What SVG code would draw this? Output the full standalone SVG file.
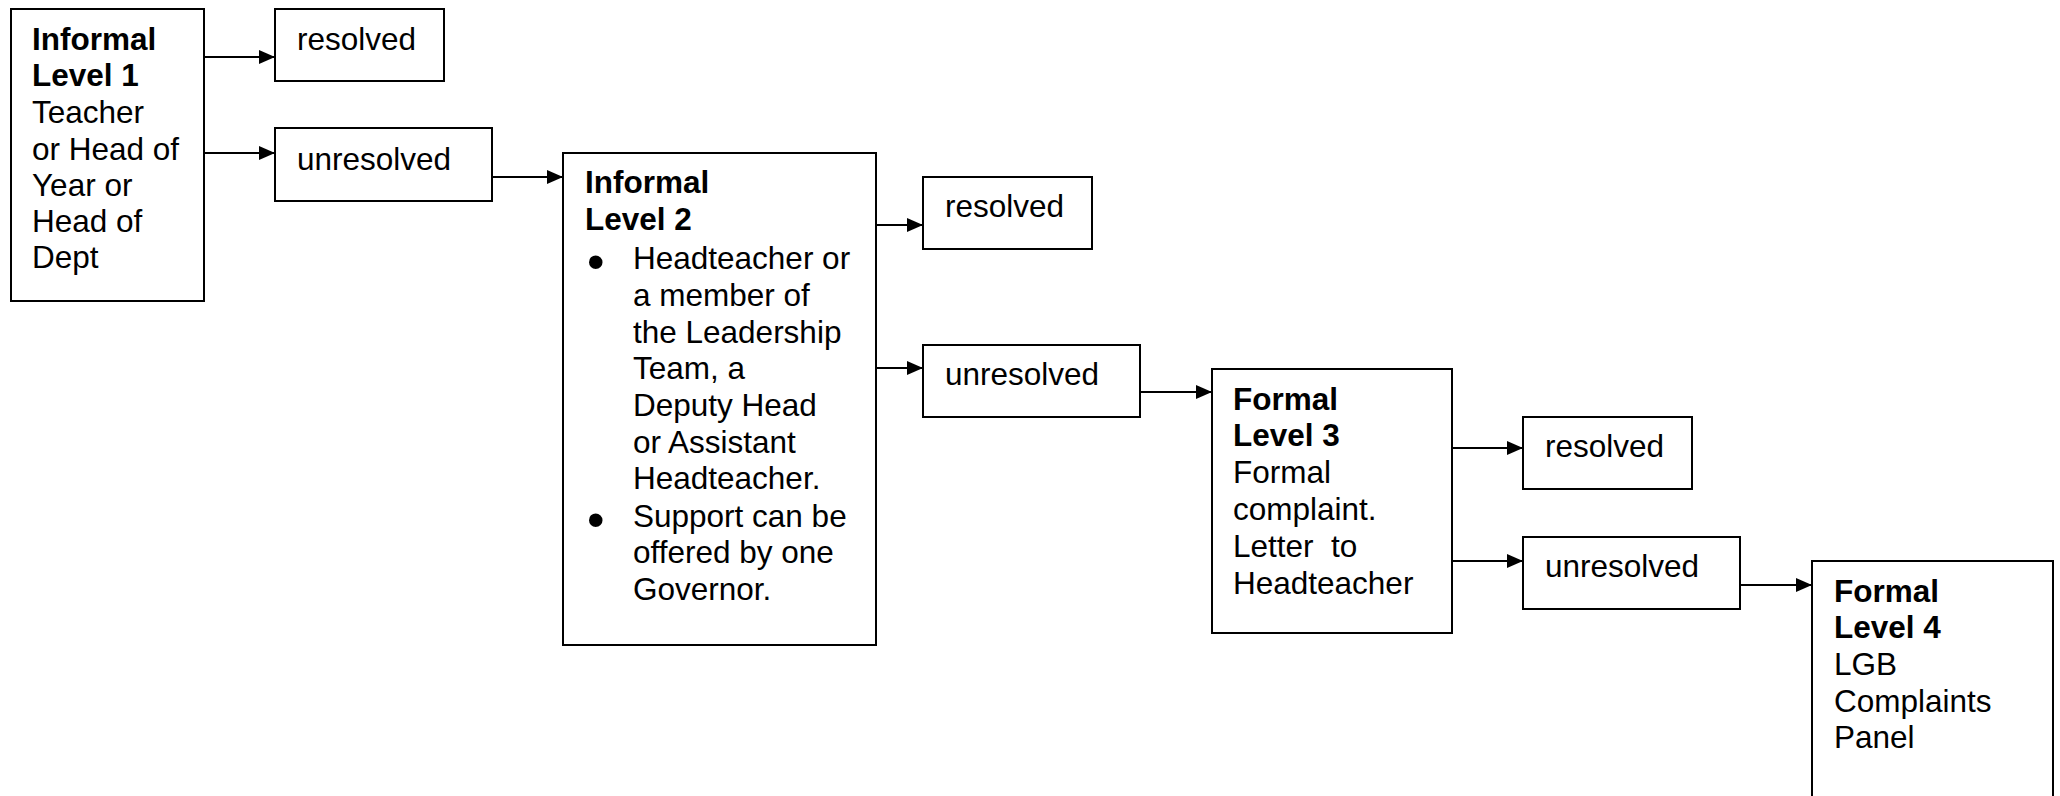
<svg xmlns="http://www.w3.org/2000/svg" width="2060" height="796" viewBox="0 0 2060 796">
<style>
.box{fill:#fff;stroke:#000;stroke-width:2}
.t{font-family:"Liberation Sans",Arial,sans-serif;font-size:31.5px;fill:#000}
.b{font-weight:bold}
.bul{font-family:"Liberation Sans",Arial,sans-serif;font-size:50px;fill:#000}
.c{stroke:#000;stroke-width:2;fill:none}
</style>
<defs>
<marker id="ah" markerUnits="userSpaceOnUse" markerWidth="16" markerHeight="14" refX="16" refY="7" orient="auto">
<path d="M0,0 L16,7 L0,14 Z" fill="#000"/>
</marker>
</defs>
<rect width="2060" height="796" fill="#fff"/>
<g id="connectors">
<line class="c" x1="204" y1="57" x2="275" y2="57" marker-end="url(#ah)"/>
<line class="c" x1="204" y1="153" x2="275" y2="153" marker-end="url(#ah)"/>
<line class="c" x1="492" y1="177" x2="563" y2="177" marker-end="url(#ah)"/>
<line class="c" x1="876" y1="225" x2="923" y2="225" marker-end="url(#ah)"/>
<line class="c" x1="876" y1="368" x2="923" y2="368" marker-end="url(#ah)"/>
<line class="c" x1="1140" y1="392" x2="1212" y2="392" marker-end="url(#ah)"/>
<line class="c" x1="1452" y1="448" x2="1523" y2="448" marker-end="url(#ah)"/>
<line class="c" x1="1452" y1="561" x2="1523" y2="561" marker-end="url(#ah)"/>
<line class="c" x1="1740" y1="585" x2="1812" y2="585" marker-end="url(#ah)"/>
</g>
<g id="level1">
<rect class="box" x="11" y="9" width="193" height="292"/>
<text class="t" x="32"><tspan class="b" x="32" y="50">Informal</tspan><tspan class="b" x="32" y="86">Level 1</tspan><tspan x="32" y="123">Teacher</tspan><tspan x="32" y="160">or Head of</tspan><tspan x="32" y="196">Year or</tspan><tspan x="32" y="232">Head of</tspan><tspan x="32" y="268">Dept</tspan></text>
</g>
<g id="resolved1">
<rect class="box" x="275" y="9" width="169" height="72"/>
<text class="t" x="297" y="50">resolved</text>
</g>
<g id="unresolved1">
<rect class="box" x="275" y="128" width="217" height="73"/>
<text class="t" x="297" y="170">unresolved</text>
</g>
<g id="level2">
<rect class="box" x="563" y="153" width="313" height="492"/>
<text class="t"><tspan class="b" x="585" y="193">Informal</tspan><tspan class="b" x="585" y="230">Level 2</tspan></text>
<text class="bul"><tspan x="587" y="279">•</tspan><tspan x="587" y="537">•</tspan></text>
<text class="t"><tspan x="633" y="269">Headteacher or</tspan><tspan x="633" y="306">a member of</tspan><tspan x="633" y="343">the Leadership</tspan><tspan x="633" y="379">Team, a</tspan><tspan x="633" y="416">Deputy Head</tspan><tspan x="633" y="453">or Assistant</tspan><tspan x="633" y="489">Headteacher.</tspan><tspan x="633" y="527">Support can be</tspan><tspan x="633" y="563">offered by one</tspan><tspan x="633" y="600">Governor.</tspan></text>
</g>
<g id="resolved2">
<rect class="box" x="923" y="177" width="169" height="72"/>
<text class="t" x="945" y="217">resolved</text>
</g>
<g id="unresolved2">
<rect class="box" x="923" y="345" width="217" height="72"/>
<text class="t" x="945" y="385">unresolved</text>
</g>
<g id="level3">
<rect class="box" x="1212" y="369" width="240" height="264"/>
<text class="t"><tspan class="b" x="1233" y="410">Formal</tspan><tspan class="b" x="1233" y="446">Level 3</tspan><tspan x="1233" y="483">Formal</tspan><tspan x="1233" y="520">complaint.</tspan><tspan x="1233" y="557" xml:space="preserve">Letter  to</tspan><tspan x="1233" y="594">Headteacher</tspan></text>
</g>
<g id="resolved3">
<rect class="box" x="1523" y="417" width="169" height="72"/>
<text class="t" x="1545" y="457">resolved</text>
</g>
<g id="unresolved3">
<rect class="box" x="1523" y="537" width="217" height="72"/>
<text class="t" x="1545" y="577">unresolved</text>
</g>
<g id="level4">
<rect class="box" x="1812" y="561" width="241" height="260"/>
<text class="t"><tspan class="b" x="1834" y="602">Formal</tspan><tspan class="b" x="1834" y="638">Level 4</tspan><tspan x="1834" y="675">LGB</tspan><tspan x="1834" y="712">Complaints</tspan><tspan x="1834" y="748">Panel</tspan></text>
</g>
</svg>
